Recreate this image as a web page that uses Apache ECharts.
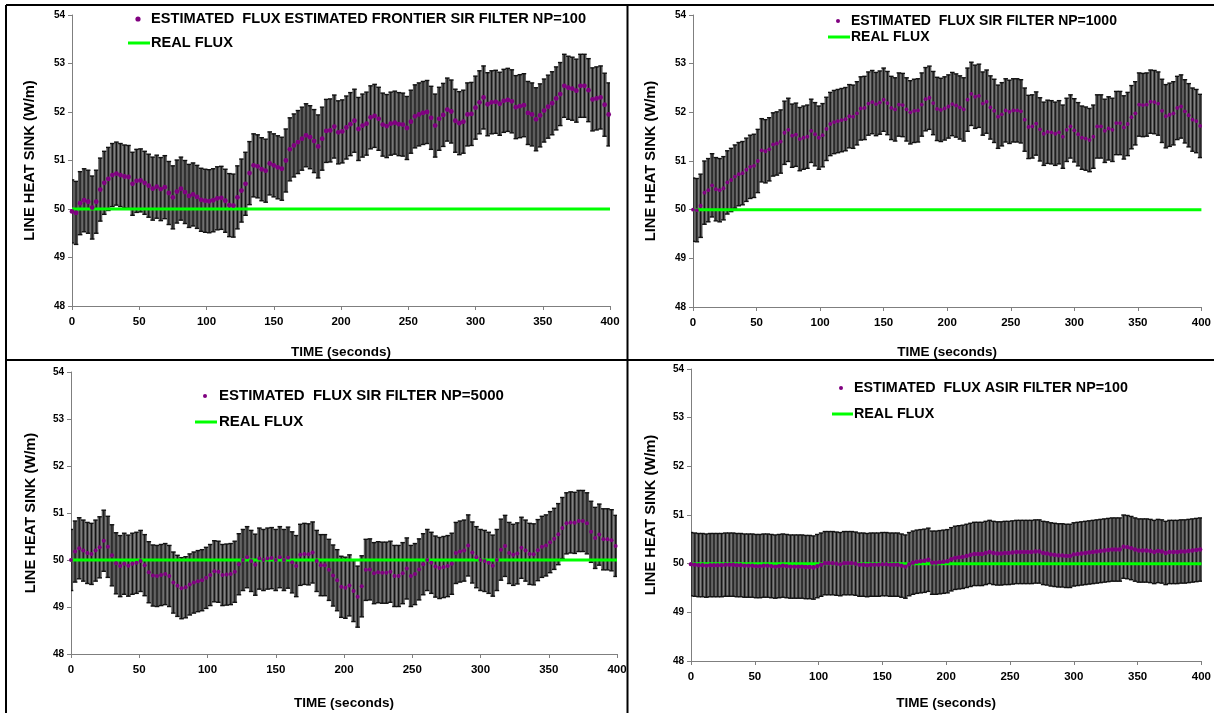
<!DOCTYPE html>
<html>
<head>
<meta charset="utf-8">
<script src="https://cdn.jsdelivr.net/npm/echarts@6/dist/echarts.min.js"></script>
<style>
html,body{margin:0;padding:0;background:#fff;}
#chart{width:1214px;height:713px;}
</style>
</head>
<body>
<div id="chart"></div>
<script>
// ---------------- DATA ----------------
const TIME_STEP = 3;            // seconds between samples
const ERROR_HALF_WIDTH = 0.65;  // W/m
const REAL_FLUX = 50;           // W/m
const REAL_FLUX_TIMES = [0, 400];

const seriesNames = [
  'ESTIMATED  FLUX ESTIMATED FRONTIER SIR FILTER NP=100',
  'ESTIMATED  FLUX SIR FILTER NP=1000',
  'ESTIMATED  FLUX SIR FILTER NP=5000',
  'ESTIMATED  FLUX ASIR FILTER NP=100'
];
const realFluxName = 'REAL FLUX';
const xAxisTitle = 'TIME (seconds)';
const yAxisTitle = 'LINE HEAT SINK (W/m)';

const fluxFrontierSirNp100 = [
  49.95, 49.92, 50.12, 50.18, 50.15, 50.03, 50.15, 50.40, 50.54, 50.62,
  50.70, 50.73, 50.70, 50.67, 50.66, 50.52, 50.58, 50.59, 50.54, 50.48,
  50.42, 50.46, 50.41, 50.45, 50.33, 50.24, 50.36, 50.42, 50.35, 50.27,
  50.30, 50.25, 50.19, 50.17, 50.16, 50.18, 50.22, 50.23, 50.17, 50.08,
  50.07, 50.24, 50.38, 50.52, 50.74, 50.90, 50.88, 50.82, 50.79, 50.94,
  50.90, 50.86, 50.83, 51.00, 51.23, 51.31, 51.38, 51.45, 51.52, 51.48,
  51.40, 51.29, 51.45, 51.61, 51.62, 51.70, 51.58, 51.60, 51.68, 51.75,
  51.82, 51.65, 51.72, 51.76, 51.89, 51.92, 51.86, 51.74, 51.71, 51.76,
  51.78, 51.75, 51.74, 51.67, 51.80, 51.91, 51.95, 51.98, 52.00, 51.88,
  51.72, 51.86, 51.94, 52.05, 52.01, 51.82, 51.77, 51.80, 51.95, 51.96,
  52.09, 52.20, 52.30, 52.16, 52.20, 52.21, 52.17, 52.23, 52.25, 52.22,
  52.10, 52.12, 52.14, 51.98, 51.95, 51.85, 51.93, 52.03, 52.11, 52.18,
  52.28, 52.37, 52.54, 52.50, 52.48, 52.44, 52.54, 52.54, 52.45, 52.26,
  52.28, 52.30, 52.15, 51.95
];
const fluxSirNp1000 = [
  50.00, 49.99, 50.08, 50.35, 50.40, 50.50, 50.42, 50.40, 50.44, 50.56,
  50.61, 50.68, 50.73, 50.75, 50.82, 50.88, 50.90, 51.00, 51.22, 51.20,
  51.24, 51.34, 51.36, 51.40, 51.58, 51.64, 51.52, 51.54, 51.45, 51.48,
  51.50, 51.62, 51.55, 51.48, 51.53, 51.66, 51.76, 51.80, 51.82, 51.84,
  51.86, 51.92, 51.91, 51.98, 52.08, 52.09, 52.18, 52.21, 52.17, 52.20,
  52.26, 52.19, 52.09, 52.06, 52.16, 52.15, 52.06, 52.00, 52.03, 52.04,
  52.16, 52.27, 52.30, 52.19, 52.07, 52.05, 52.08, 52.12, 52.17, 52.14,
  52.10, 52.06, 52.26, 52.38, 52.32, 52.34, 52.18, 52.22, 52.10, 52.03,
  51.91, 51.96, 52.04, 52.01, 52.04, 52.04, 52.02, 51.85, 51.70, 51.71,
  51.77, 51.65, 51.56, 51.60, 51.59, 51.56, 51.59, 51.50, 51.64, 51.71,
  51.63, 51.55, 51.48, 51.46, 51.43, 51.50, 51.71, 51.71, 51.62, 51.67,
  51.64, 51.78, 51.78, 51.69, 51.76, 51.90, 51.98, 52.16, 52.15, 52.16,
  52.22, 52.21, 52.18, 52.03, 51.92, 51.95, 51.98, 52.09, 52.12, 52.02,
  51.94, 51.85, 51.82, 51.72
];
const fluxSirNp5000 = [
  50.00, 50.18, 50.25, 50.20, 50.15, 50.13, 50.20, 50.27, 50.41, 50.28,
  50.10, 49.93, 49.87, 49.92, 49.88, 49.92, 49.94, 49.98, 49.89, 49.74,
  49.67, 49.66, 49.68, 49.70, 49.66, 49.52, 49.45, 49.40, 49.42, 49.48,
  49.52, 49.55, 49.57, 49.62, 49.68, 49.76, 49.75, 49.68, 49.69, 49.70,
  49.75, 49.91, 50.00, 50.06, 49.98, 49.90, 50.03, 50.00, 50.03, 50.04,
  50.00, 50.06, 50.00, 50.05, 49.95, 49.87, 50.11, 50.13, 50.12, 50.16,
  49.98, 49.89, 49.89, 49.79, 49.67, 49.57, 49.43, 49.41, 49.46, 49.34,
  49.22, 49.44, 49.79, 49.80, 49.72, 49.74, 49.73, 49.73, 49.75, 49.66,
  49.66, 49.72, 49.82, 49.66, 49.70, 49.80, 49.91, 50.00, 49.94, 49.86,
  49.83, 49.85, 49.87, 49.92, 50.15, 50.18, 50.20, 50.31, 50.16, 50.06,
  50.00, 49.98, 49.94, 49.88, 50.00, 50.22, 50.30, 50.15, 50.11, 50.14,
  50.26, 50.20, 50.13, 50.12, 50.21, 50.28, 50.31, 50.38, 50.45, 50.55,
  50.68, 50.78, 50.80, 50.79, 50.83, 50.83, 50.78, 50.60, 50.47, 50.54,
  50.44, 50.44, 50.42, 50.30
];
const fluxAsirNp100 = [
  49.99, 49.98, 49.97, 49.97, 49.96, 49.97, 49.97, 49.97, 49.97, 49.98,
  49.98, 49.98, 49.97, 49.97, 49.96, 49.96, 49.96, 49.95, 49.95, 49.96,
  49.96, 49.95, 49.94, 49.95, 49.96, 49.95, 49.94, 49.94, 49.94, 49.94,
  49.93, 49.93, 49.92, 49.95, 49.98, 50.01, 50.01, 50.01, 50.00, 49.99,
  50.01, 50.01, 50.01, 50.00, 49.98, 49.98, 49.97, 49.98, 49.98, 49.98,
  49.99, 49.99, 49.98, 49.98, 49.98, 49.96, 49.94, 49.99, 50.02, 50.04,
  50.05, 50.06, 50.08, 50.02, 50.02, 50.03, 50.04, 50.05, 50.09, 50.12,
  50.13, 50.14, 50.16, 50.18, 50.20, 50.20, 50.20, 50.22, 50.24, 50.22,
  50.21, 50.21, 50.22, 50.22, 50.23, 50.24, 50.24, 50.24, 50.24, 50.24,
  50.25, 50.25, 50.22, 50.21, 50.19, 50.18, 50.17, 50.17, 50.16, 50.16,
  50.19, 50.20, 50.21, 50.22, 50.23, 50.24, 50.25, 50.26, 50.27, 50.28,
  50.29, 50.29, 50.29, 50.35, 50.34, 50.32, 50.29, 50.27, 50.27, 50.27,
  50.26, 50.24, 50.26, 50.25, 50.22, 50.24, 50.24, 50.24, 50.25, 50.25,
  50.26, 50.27, 50.28, 50.29
];
const xAxisRange = [0, 400];
const xAxisInterval = 50;
const yAxisRange = [48, 54];
const yAxisInterval = 1;

// ---------------- LAYOUT / STYLE ----------------
const FONT = "'Liberation Sans', Arial, sans-serif";
const panels = [
  { values: fluxFrontierSirNp100, name: seriesNames[0],
    grid: {left: 72, top: 15, width: 538, height: 291},
    xNameGap: 39, yNameGap: 35, dotSize: 4.8, legendFont: 14.6,
    legend: {dot: [138, 19], text1: [151, 19], line: [128, 150, 43], text2: [151, 43], dotR: 2.6} },
  { values: fluxSirNp1000, name: seriesNames[1],
    grid: {left: 693, top: 15, width: 512, height: 292},
    xNameGap: 38, yNameGap: 35, dotSize: 3.8, legendFont: 14,
    legend: {dot: [838, 21], text1: [851, 21], line: [828, 850, 37], text2: [851, 37], dotR: 2} },
  { values: fluxSirNp5000, name: seriesNames[2],
    grid: {left: 71, top: 372, width: 546, height: 282},
    xNameGap: 42, yNameGap: 33, dotSize: 4, legendFont: 15,
    legend: {dot: [205, 396], text1: [219, 396], line: [195, 217, 422], text2: [219, 422], dotR: 2} },
  { values: fluxAsirNp100, name: seriesNames[3],
    grid: {left: 691, top: 369, width: 514, height: 292},
    xNameGap: 35, yNameGap: 33, dotSize: 4.4, legendFont: 14.3,
    legend: {dot: [841, 388], text1: [854, 388], line: [832, 853, 414], text2: [854, 414], dotR: 2} }
];

function errorBarItem(params, api) {
  const t = api.value(0);
  const lo = api.coord([t, api.value(1)]);
  const hi = api.coord([t, api.value(2)]);
  const w = api.size([TIME_STEP, 0])[0];
  const cap = 2.3;
  return {
    type: 'group',
    children: [
      {type: 'rect', shape: {x: hi[0] - w / 2, y: hi[1], width: w, height: lo[1] - hi[1]},
       style: {fill: '#5c5c5c'}},
      {type: 'line', shape: {x1: hi[0], y1: hi[1], x2: lo[0], y2: lo[1]},
       style: {stroke: '#151515', lineWidth: 1.2}},
      {type: 'line', shape: {x1: hi[0] - cap, y1: hi[1], x2: hi[0] + cap, y2: hi[1]},
       style: {stroke: '#111', lineWidth: 1.4}},
      {type: 'line', shape: {x1: lo[0] - cap, y1: lo[1], x2: lo[0] + cap, y2: lo[1]},
       style: {stroke: '#111', lineWidth: 1.4}}
    ]
  };
}

const grids = [], xAxes = [], yAxes = [], series = [], graphics = [];
panels.forEach((p, i) => {
  grids.push(Object.assign({containLabel: false}, p.grid));
  xAxes.push({
    gridIndex: i, type: 'value', min: xAxisRange[0], max: xAxisRange[1], interval: xAxisInterval,
    name: xAxisTitle, nameLocation: 'middle', nameGap: p.xNameGap,
    nameTextStyle: {fontFamily: FONT, fontWeight: 'bold', fontSize: 13.5, color: '#000'},
    axisLine: {onZero: false, lineStyle: {color: '#7f7f7f', width: 1}},
    axisTick: {show: true, length: 4, lineStyle: {color: '#7f7f7f'}},
    axisLabel: {fontFamily: FONT, fontWeight: 'bold', fontSize: 11.5, color: '#000', margin: 10},
    splitLine: {show: false}
  });
  yAxes.push({
    gridIndex: i, type: 'value', min: yAxisRange[0], max: yAxisRange[1], interval: yAxisInterval,
    name: yAxisTitle, nameLocation: 'middle', nameGap: p.yNameGap,
    nameTextStyle: {fontFamily: FONT, fontWeight: 'bold', fontSize: 14.7, color: '#000'},
    axisLine: {show: true, lineStyle: {color: '#7f7f7f', width: 1}},
    axisTick: {show: true, length: 4, lineStyle: {color: '#7f7f7f'}},
    axisLabel: {fontFamily: FONT, fontWeight: 'bold', fontSize: 10, color: '#000', margin: 7},
    splitLine: {show: false}
  });
  const times = p.values.map((v, k) => k * TIME_STEP);
  series.push({
    name: p.name + ' error', type: 'custom', xAxisIndex: i, yAxisIndex: i, clip: true,
    renderItem: errorBarItem, z: 1, silent: true,
    data: p.values.map((v, k) => [times[k], v - ERROR_HALF_WIDTH, v + ERROR_HALF_WIDTH])
  });
  series.push({
    name: realFluxName, type: 'line', xAxisIndex: i, yAxisIndex: i, z: 2,
    symbol: 'none', lineStyle: {color: '#00ff00', width: 3}, silent: true,
    data: REAL_FLUX_TIMES.map(t => [t, REAL_FLUX])
  });
  series.push({
    name: p.name, type: 'scatter', xAxisIndex: i, yAxisIndex: i, z: 3,
    symbol: 'circle', symbolSize: p.dotSize, itemStyle: {color: '#800080', opacity: 1}, silent: true,
    data: p.values.map((v, k) => [times[k], v])
  });
  const L = p.legend;
  const legendFont = 'bold ' + p.legendFont + 'px ' + FONT;
  graphics.push(
    {type: 'circle', shape: {cx: L.dot[0], cy: L.dot[1], r: L.dotR}, style: {fill: '#800080'}},
    {type: 'text', x: L.text1[0], y: L.text1[1],
     style: {text: p.name, font: legendFont, fill: '#000', verticalAlign: 'middle'}},
    {type: 'line', shape: {x1: L.line[0], y1: L.line[2], x2: L.line[1], y2: L.line[2]},
     style: {stroke: '#00ff00', lineWidth: 3}},
    {type: 'text', x: L.text2[0], y: L.text2[1],
     style: {text: realFluxName, font: legendFont, fill: '#000', verticalAlign: 'middle'}}
  );
});

// panel frame lines
const frameLines = [
  [6, 5, 1214, 5], [6, 5, 6, 713], [627.5, 5, 627.5, 713], [6, 360, 1214, 360]
];
frameLines.forEach(f => graphics.push({
  type: 'line', shape: {x1: f[0], y1: f[1], x2: f[2], y2: f[3]},
  style: {stroke: '#000', lineWidth: 2}, z: 10
}));

const chart = echarts.init(document.getElementById('chart'), null, {renderer: 'canvas'});
chart.setOption({
  animation: false,
  backgroundColor: '#ffffff',
  grid: grids, xAxis: xAxes, yAxis: yAxes, series: series,
  graphic: graphics
});
</script>
</body>
</html>
